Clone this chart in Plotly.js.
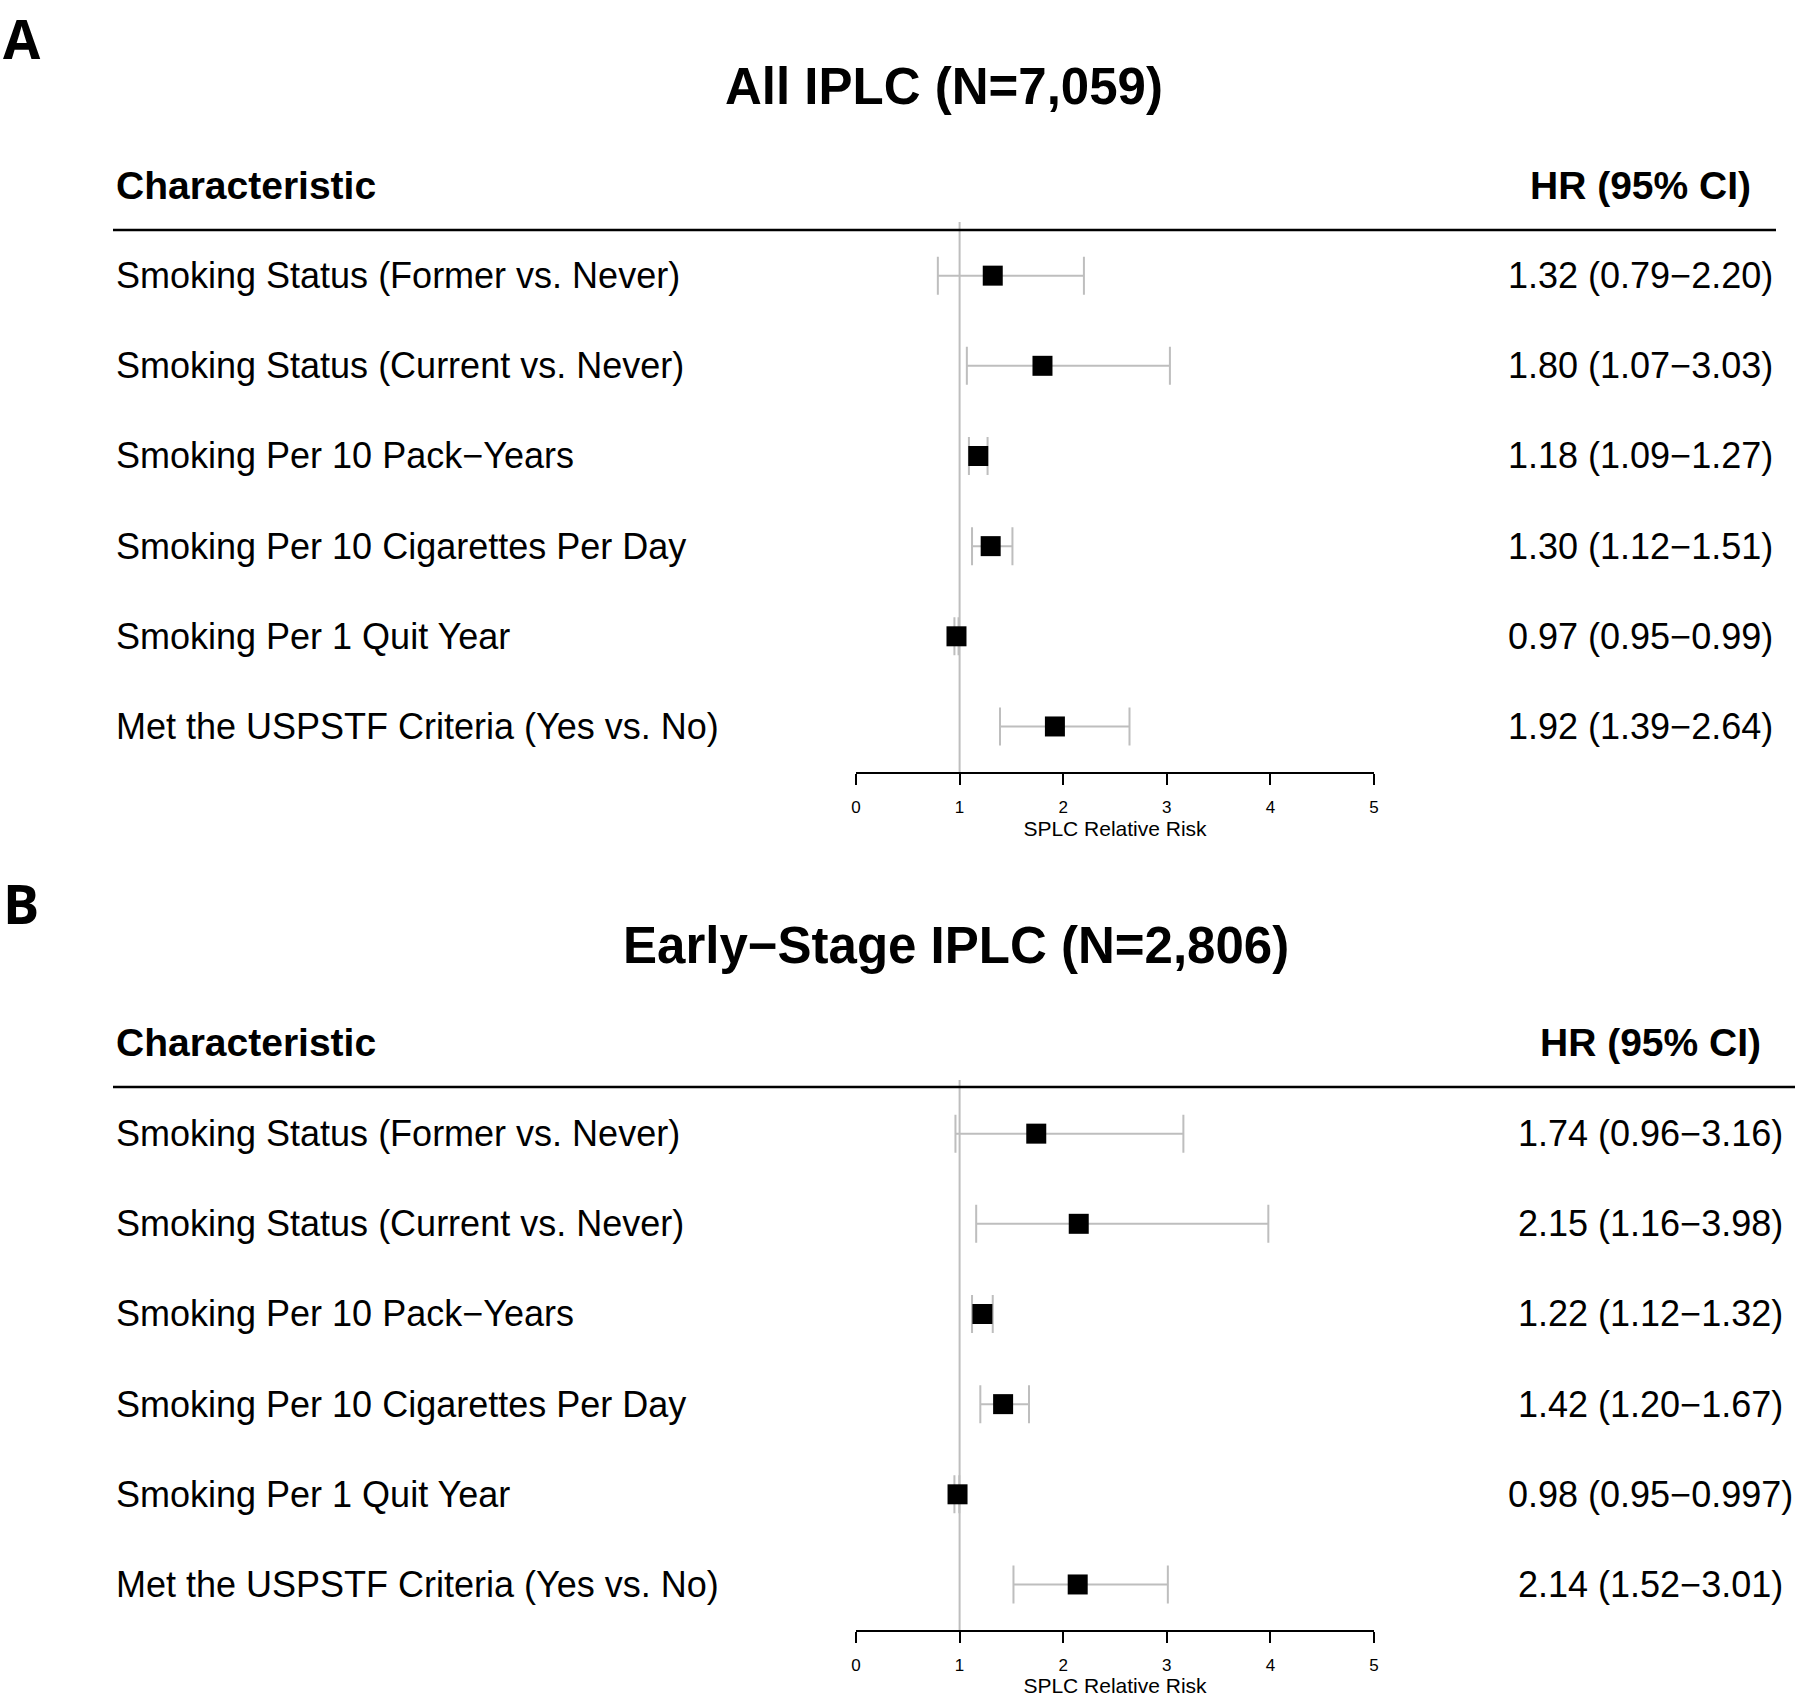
<!DOCTYPE html>
<html>
<head>
<meta charset="utf-8">
<script src="https://cdn.plot.ly/plotly-3.0.1.min.js"></script>
<style>html,body{margin:0;padding:0;background:#fff;}#chart{width:1800px;height:1697px;}</style>
</head>
<body>
<div id="chart"></div>
<script>
// ---------- DATA ----------
const characteristics = [
  "Smoking Status (Former vs. Never)",
  "Smoking Status (Current vs. Never)",
  "Smoking Per 10 Pack\u2212Years",
  "Smoking Per 10 Cigarettes Per Day",
  "Smoking Per 1 Quit Year",
  "Met the USPSTF Criteria (Yes vs. No)"
];
// Panel A: All IPLC
const hrA    = [1.32, 1.80, 1.18, 1.30, 0.97, 1.92];
const lowerA = [0.79, 1.07, 1.09, 1.12, 0.95, 1.39];
const upperA = [2.20, 3.03, 1.27, 1.51, 0.99, 2.64];
const ciTextA = ["1.32 (0.79\u22122.20)", "1.80 (1.07\u22123.03)", "1.18 (1.09\u22121.27)",
                 "1.30 (1.12\u22121.51)", "0.97 (0.95\u22120.99)", "1.92 (1.39\u22122.64)"];
// Panel B: Early-Stage IPLC
const hrB    = [1.74, 2.15, 1.22, 1.42, 0.98, 2.14];
const lowerB = [0.96, 1.16, 1.12, 1.20, 0.95, 1.52];
const upperB = [3.16, 3.98, 1.32, 1.67, 0.997, 3.01];
const ciTextB = ["1.74 (0.96\u22123.16)", "2.15 (1.16\u22123.98)", "1.22 (1.12\u22121.32)",
                 "1.42 (1.20\u22121.67)", "0.98 (0.95\u22120.997)", "2.14 (1.52\u22123.01)"];
const titleA = "All IPLC (N=7,059)";
const titleB = "Early\u2212Stage IPLC (N=2,806)";
const panelA = "A", panelB = "B";
const headerLeft = "Characteristic", headerRight = "HR (95% CI)";
const xTitle = "SPLC Relative Risk";
const xTicks = [0, 1, 2, 3, 4, 5];
const nullValue = 1;

// ---------- LAYOUT HELPERS ----------
const W = 1800, H = 1697;
const px = x => x / W;
const py = y => 1 - y / H;
const rows = characteristics.map((_, i) => i);
const FONT = "Liberation Sans, Arial, Helvetica, sans-serif";
const GREY = "#bebebe";

function trace(hr, lo, hi, xa, ya) {
  return {
    type: "scatter", mode: "markers",
    x: hr, y: rows, xaxis: xa, yaxis: ya,
    marker: {symbol: "square", size: 20, color: "#000"},
    error_x: {
      type: "data", symmetric: false,
      array: hi.map((v, i) => v - hr[i]),
      arrayminus: lo.map((v, i) => hr[i] - v),
      color: GREY, thickness: 2, width: 19
    },
    cliponaxis: false, hoverinfo: "skip", showlegend: false
  };
}

function xaxisDef() {
  return {
    domain: [px(856), px(1374)], range: [0, 5], tickvals: xTicks,
    ticks: "outside", ticklen: 11, tickwidth: 2, tickcolor: "#000",
    ticklabelstandoff: 8,
    showline: true, linewidth: 2, linecolor: "#000",
    showgrid: false, zeroline: false, fixedrange: true,
    tickfont: {family: FONT, size: 17, color: "#000"},
    title: {text: xTitle, font: {family: FONT, size: 21, color: "#000"}, standoff: 5}
  };
}
function yaxisDef(top, bottom) {
  return {
    domain: [py(bottom), py(top)], range: [5.505, -0.595],
    visible: false, showgrid: false, zeroline: false, fixedrange: true
  };
}

const annotations = [];
const shapes = [];
function panel(opts) {
  const {letter, letterY, letterAnchor, title, titleX, titleY, headerY, valX, ruleY, ruleEnd, ya, xa, ciText} = opts;
  annotations.push({xref: "paper", yref: "paper", x: px(2), y: py(letterY), xanchor: "left", yanchor: letterAnchor,
    borderpad: 0, text: "<b>" + letter + "</b>", showarrow: false,
    font: {family: "Open Sans, sans-serif", size: 54, color: "#000"}});
  annotations.push({xref: "paper", yref: "paper", x: px(titleX), y: py(titleY), xanchor: "center", yanchor: "middle",
    text: "<b>" + title + "</b>", showarrow: false, font: {family: FONT, size: 51, color: "#000"}});
  annotations.push({xref: "paper", yref: "paper", x: px(114), y: py(headerY), xanchor: "left", yanchor: "middle",
    text: "<b>" + headerLeft + "</b>", showarrow: false, font: {family: FONT, size: 39, color: "#000"}});
  annotations.push({xref: "paper", yref: "paper", x: px(valX), y: py(headerY), xanchor: "center", yanchor: "middle",
    text: "<b>" + headerRight + "</b>", showarrow: false, font: {family: FONT, size: 39, color: "#000"}});
  characteristics.forEach((c, i) => {
    annotations.push({xref: "paper", yref: ya, x: px(114), y: rows[i], xanchor: "left", yanchor: "middle",
      text: c, showarrow: false, font: {family: FONT, size: 36, color: "#000"}});
    annotations.push({xref: "paper", yref: ya, x: px(valX), y: rows[i], xanchor: "center", yanchor: "middle",
      text: ciText[i], showarrow: false, font: {family: FONT, size: 36, color: "#000"}});
  });
  shapes.push({type: "line", xref: "paper", yref: "paper", x0: px(113), x1: px(ruleEnd), y0: py(ruleY), y1: py(ruleY),
    line: {color: "#000", width: 2.5}});
  shapes.push({type: "line", xref: xa, yref: ya + " domain", x0: nullValue, x1: nullValue, y0: 0, y1: 1,
    line: {color: GREY, width: 2}, layer: "below"});
}

panel({letter: panelA, letterY: 0, letterAnchor: "top", title: titleA, titleX: 944, titleY: 86, headerY: 185, valX: 1640,
  ruleY: 230, ruleEnd: 1776, xa: "x", ya: "y", ciText: ciTextA});
panel({letter: panelB, letterY: 903, letterAnchor: "middle", title: titleB, titleX: 956, titleY: 945, headerY: 1042, valX: 1650,
  ruleY: 1087, ruleEnd: 1795, xa: "x2", ya: "y2", ciText: ciTextB});

const data = [trace(hrA, lowerA, upperA, "x", "y"), trace(hrB, lowerB, upperB, "x2", "y2")];

const layout = {
  width: W, height: H, margin: {l: 0, r: 0, t: 0, b: 0},
  paper_bgcolor: "#fff", plot_bgcolor: "#fff",
  xaxis: Object.assign(xaxisDef(), {anchor: "y"}),
  yaxis: Object.assign(yaxisDef(222, 772), {anchor: "x"}),
  xaxis2: Object.assign(xaxisDef(), {anchor: "y2"}),
  yaxis2: Object.assign(yaxisDef(1080, 1630), {anchor: "x2"}),
  annotations: annotations, shapes: shapes, showlegend: false
};

Plotly.newPlot("chart", data, layout, {displayModeBar: false, staticPlot: true});
</script>
</body>
</html>
